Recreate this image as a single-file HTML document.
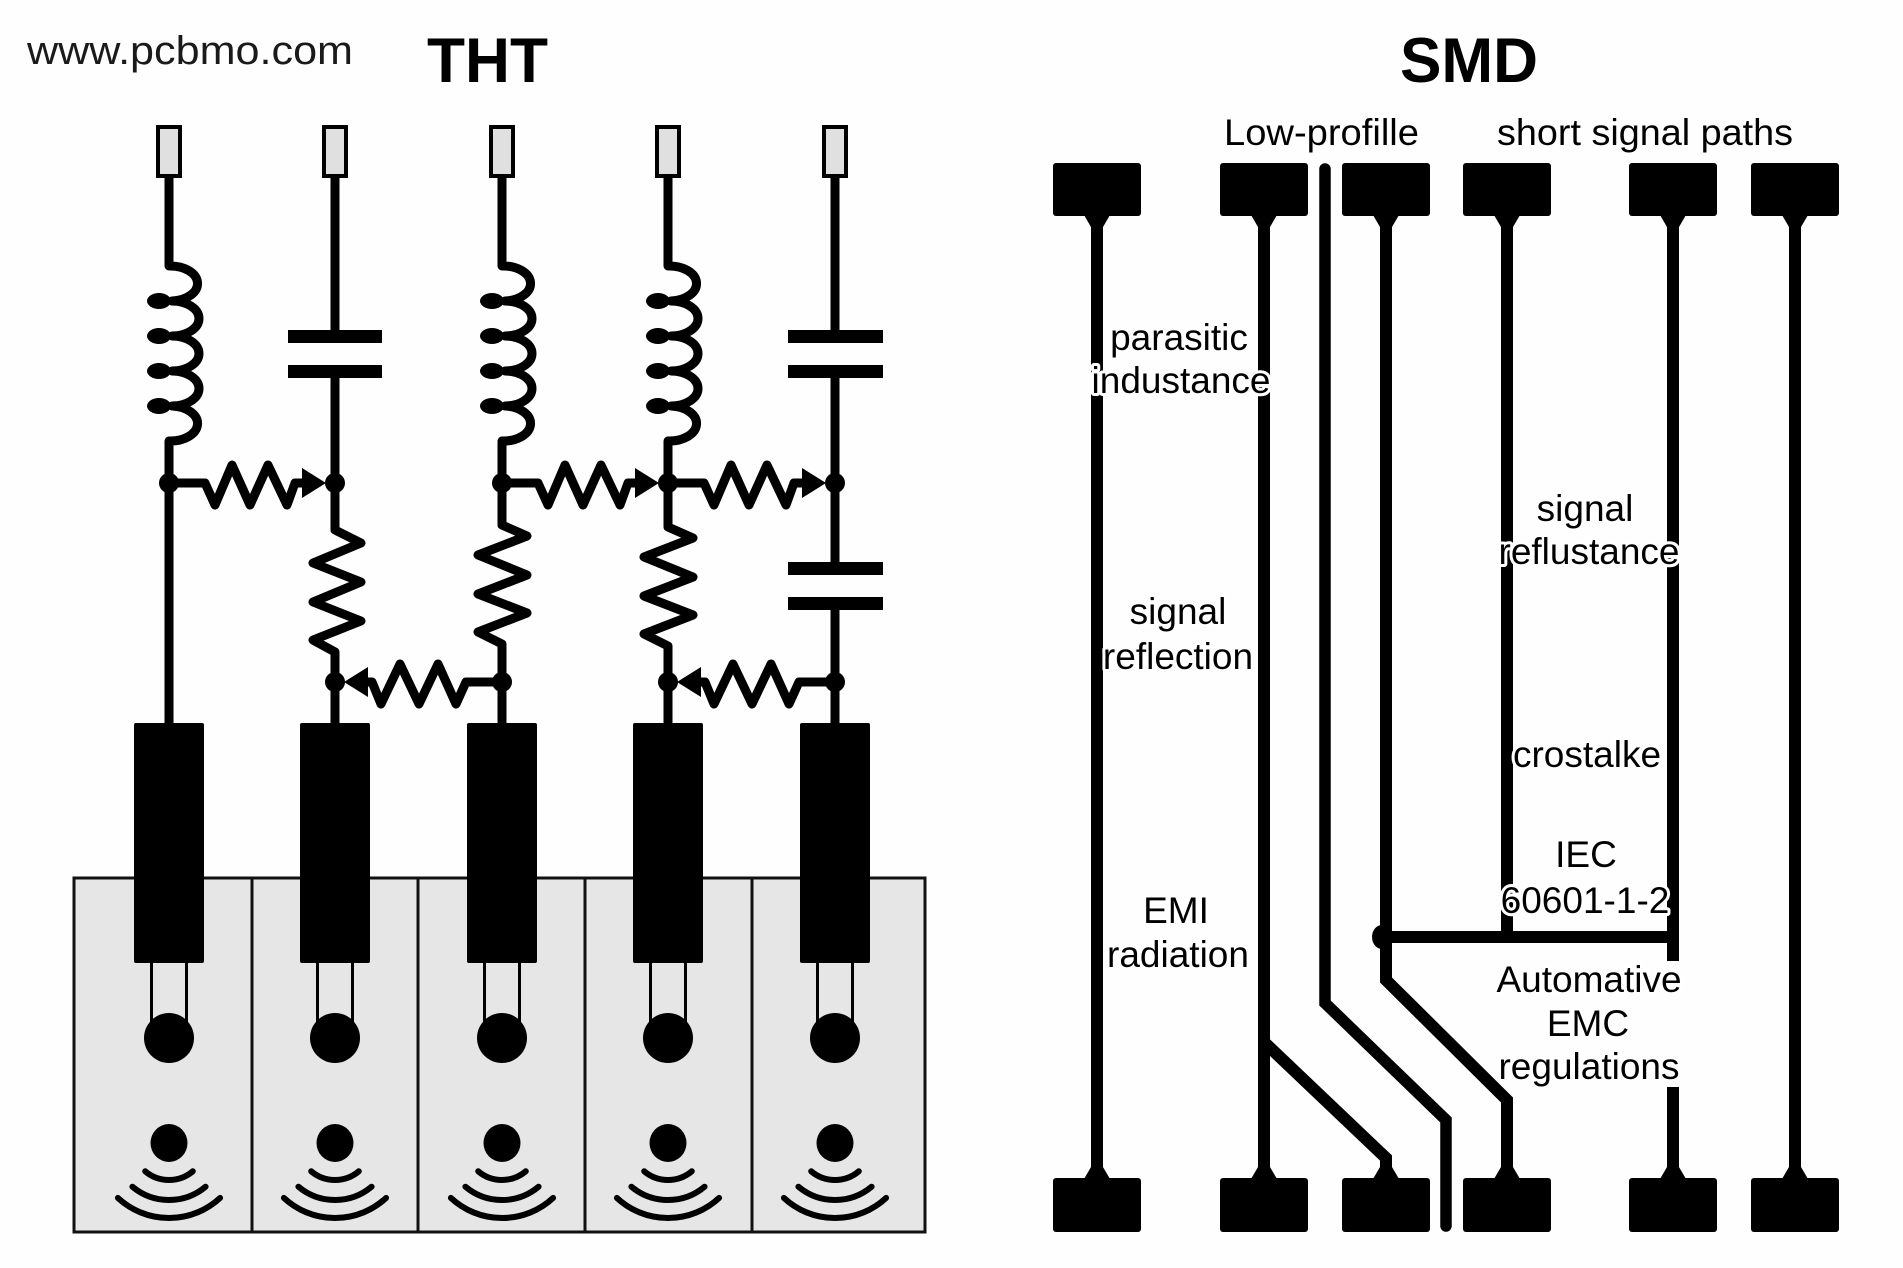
<!DOCTYPE html>
<html>
<head>
<meta charset="utf-8">
<style>
  html,body{margin:0;padding:0;background:#fefefe;}
  svg{display:block;}
  text{font-family:"Liberation Sans",Arial,sans-serif;}
</style>
</head>
<body>
<svg width="1903" height="1268" viewBox="0 0 1903 1268" xmlns="http://www.w3.org/2000/svg">
  <rect x="0" y="0" width="1903" height="1268" fill="#fefefe"/>

  <!-- header texts -->
  <text x="27" y="64" font-size="40" fill="#1a1a1a" textLength="326" lengthAdjust="spacingAndGlyphs">www.pcbmo.com</text>
  <text x="427" y="82" font-size="63" font-weight="bold" fill="#000" textLength="121" lengthAdjust="spacingAndGlyphs">THT</text>
  <text x="1400" y="82" font-size="63" font-weight="bold" fill="#000" textLength="138" lengthAdjust="spacingAndGlyphs">SMD</text>

  <!-- ================= THT side ================= -->
  <rect x="74" y="878" width="851" height="354" fill="#e6e6e6" stroke="#111" stroke-width="3"/>
  <g stroke="#111" stroke-width="3">
    <line x1="252" y1="878" x2="252" y2="1232"/>
    <line x1="418" y1="878" x2="418" y2="1232"/>
    <line x1="585" y1="878" x2="585" y2="1232"/>
    <line x1="752" y1="878" x2="752" y2="1232"/>
  </g>

  <!-- leads -->
  <g fill="#e0e0e0" stroke="#000" stroke-width="4">
    <rect x="158" y="127" width="22" height="49"/>
    <rect x="324" y="127" width="22" height="49"/>
    <rect x="491" y="127" width="22" height="49"/>
    <rect x="657" y="127" width="22" height="49"/>
    <rect x="824" y="127" width="22" height="49"/>
  </g>

  <!-- wires -->
  <g fill="none" stroke="#000" stroke-width="9" stroke-linejoin="round">
    <path d="M169,178 V266 A27 17.5 0 0 1 172,301 A27 17.5 0 0 1 172,336 A27 17.5 0 0 1 172,371 A27 17.5 0 0 1 172,406 A27 17.5 0 0 1 169,441 V724"/>
    <path d="M335,178 V330"/>
    <path d="M335,378 V530 L361,543 L313,563 L361,582 L313,602 L361,621 L313,640 L335,652 V724"/>
    <path d="M502,178 V266 A27 17.5 0 0 1 505,301 A27 17.5 0 0 1 505,336 A27 17.5 0 0 1 505,371 A27 17.5 0 0 1 505,406 A27 17.5 0 0 1 502,441 V525 L527,536 L478,555 L527,575 L478,594 L527,613 L478,632 L502,644 V724"/>
    <path d="M668,178 V266 A27 17.5 0 0 1 671,301 A27 17.5 0 0 1 671,336 A27 17.5 0 0 1 671,371 A27 17.5 0 0 1 671,406 A27 17.5 0 0 1 668,441 V527 L693,538 L644,557 L693,577 L644,596 L693,615 L644,634 L668,646 V724"/>
    <path d="M835,178 V330"/>
    <path d="M835,378 V562"/>
    <path d="M835,610 V724"/>

    <path d="M169,483 H205 L215,505 L232,465 L250,505 L268,465 L287,505 L295,483 H312"/>
    <path d="M502,483 H538 L548,505 L565,465 L583,505 L601,465 L620,505 L628,483 H645"/>
    <path d="M668,483 H704 L714,505 L731,465 L749,505 L767,465 L786,505 L794,483 H812"/>
    <path d="M502,682 H466 L456,704 L438,664 L419,704 L400,664 L381,704 L372,682 H358"/>
    <path d="M835,682 H799 L789,704 L771,664 L752,704 L733,664 L714,704 L705,682 H691"/>
  </g>

  <!-- inductor left loops -->
  <g fill="#000">
    <ellipse cx="159" cy="301" rx="12" ry="8"/>
    <ellipse cx="159" cy="336" rx="12" ry="8"/>
    <ellipse cx="159" cy="371" rx="12" ry="8"/>
    <ellipse cx="159" cy="406" rx="12" ry="8"/>
    <ellipse cx="492" cy="301" rx="12" ry="8"/>
    <ellipse cx="492" cy="336" rx="12" ry="8"/>
    <ellipse cx="492" cy="371" rx="12" ry="8"/>
    <ellipse cx="492" cy="406" rx="12" ry="8"/>
    <ellipse cx="658" cy="301" rx="12" ry="8"/>
    <ellipse cx="658" cy="336" rx="12" ry="8"/>
    <ellipse cx="658" cy="371" rx="12" ry="8"/>
    <ellipse cx="658" cy="406" rx="12" ry="8"/>
  </g>

  <!-- capacitor plates -->
  <g fill="#000">
    <rect x="288" y="330" width="94" height="13"/>
    <rect x="288" y="365" width="94" height="13"/>
    <rect x="788" y="330" width="95" height="13"/>
    <rect x="788" y="365" width="95" height="13"/>
    <rect x="788" y="562" width="95" height="13"/>
    <rect x="788" y="597" width="95" height="13"/>
  </g>

  <!-- arrowheads -->
  <g fill="#000">
    <polygon points="302,468 326,483 302,498"/>
    <polygon points="635,468 659,483 635,498"/>
    <polygon points="802,468 826,483 802,498"/>
    <polygon points="368,667 344,682 368,697"/>
    <polygon points="701,667 677,682 701,697"/>
  </g>

  <!-- junction dots -->
  <g fill="#000">
    <ellipse cx="169" cy="483" rx="10" ry="10"/>
    <ellipse cx="335" cy="483" rx="10" ry="10"/>
    <ellipse cx="502" cy="483" rx="10" ry="10"/>
    <ellipse cx="668" cy="483" rx="10" ry="10"/>
    <ellipse cx="835" cy="483" rx="10" ry="10"/>
    <ellipse cx="335" cy="682" rx="10" ry="10"/>
    <ellipse cx="502" cy="682" rx="10" ry="10"/>
    <ellipse cx="668" cy="682" rx="10" ry="10"/>
    <ellipse cx="835" cy="682" rx="10" ry="10"/>
  </g>

  <!-- bodies -->
  <g fill="#000">
    <rect x="134" y="723" width="70" height="240" rx="2"/>
    <rect x="300" y="723" width="70" height="240" rx="2"/>
    <rect x="467" y="723" width="70" height="240" rx="2"/>
    <rect x="633" y="723" width="70" height="240" rx="2"/>
    <rect x="800" y="723" width="70" height="240" rx="2"/>
  </g>

  <g stroke="#000" stroke-width="3">
    <line x1="151.5" y1="962" x2="151.5" y2="1022"/><line x1="186.5" y1="962" x2="186.5" y2="1022"/>
    <line x1="317.5" y1="962" x2="317.5" y2="1022"/><line x1="352.5" y1="962" x2="352.5" y2="1022"/>
    <line x1="484.5" y1="962" x2="484.5" y2="1022"/><line x1="519.5" y1="962" x2="519.5" y2="1022"/>
    <line x1="650.5" y1="962" x2="650.5" y2="1022"/><line x1="685.5" y1="962" x2="685.5" y2="1022"/>
    <line x1="817.5" y1="962" x2="817.5" y2="1022"/><line x1="852.5" y1="962" x2="852.5" y2="1022"/>
  </g>
  <g fill="#000">
    <circle cx="169" cy="1038" r="25"/>
    <circle cx="335" cy="1038" r="25"/>
    <circle cx="502" cy="1038" r="25"/>
    <circle cx="668" cy="1038" r="25"/>
    <circle cx="835" cy="1038" r="25"/>
    <ellipse cx="169" cy="1143" rx="18.5" ry="19"/>
    <ellipse cx="335" cy="1143" rx="18.5" ry="19"/>
    <ellipse cx="502" cy="1143" rx="18.5" ry="19"/>
    <ellipse cx="668" cy="1143" rx="18.5" ry="19"/>
    <ellipse cx="835" cy="1143" rx="18.5" ry="19"/>
  </g>
  <g fill="none" stroke="#000" stroke-width="6" stroke-linecap="round">
    <path d="M192.8,1171.3 A37 37 0 0 1 145.2,1171.3 M205.6,1186.7 A57 57 0 0 1 132.4,1186.7 M220.1,1197.9 A75 75 0 0 1 117.9,1197.9"/>
    <path d="M358.8,1171.3 A37 37 0 0 1 311.2,1171.3 M371.6,1186.7 A57 57 0 0 1 298.4,1186.7 M386.1,1197.9 A75 75 0 0 1 283.9,1197.9"/>
    <path d="M525.8,1171.3 A37 37 0 0 1 478.2,1171.3 M538.6,1186.7 A57 57 0 0 1 465.4,1186.7 M553.1,1197.9 A75 75 0 0 1 450.9,1197.9"/>
    <path d="M691.8,1171.3 A37 37 0 0 1 644.2,1171.3 M704.6,1186.7 A57 57 0 0 1 631.4,1186.7 M719.1,1197.9 A75 75 0 0 1 616.9,1197.9"/>
    <path d="M858.8,1171.3 A37 37 0 0 1 811.2,1171.3 M871.6,1186.7 A57 57 0 0 1 798.4,1186.7 M886.1,1197.9 A75 75 0 0 1 783.9,1197.9"/>
  </g>

  <!-- ================= SMD side ================= -->
  <text x="1224" y="145" font-size="37" fill="#000" textLength="195" lengthAdjust="spacingAndGlyphs">Low-profille</text>
  <text x="1497" y="145" font-size="37" fill="#000" textLength="296" lengthAdjust="spacingAndGlyphs">short signal paths</text>

  <g fill="none" stroke="#000" stroke-width="12" stroke-linejoin="miter">
    <path d="M1097,216 V1178"/>
    <path d="M1264,216 V1178"/>
    <path d="M1264,1042 L1386,1158 V1178"/>
    <path d="M1325,169 V1003 L1446,1120 V1226" stroke-linecap="round" stroke-width="11.5"/>
    <path d="M1386,216 V980 L1507,1100 V1178"/>
    <path d="M1507,216 V937"/>
    <path d="M1380,937 H1679"/>
    <path d="M1673,216 V961"/>
    <path d="M1673,1087 V1178"/>
    <path d="M1795,216 V1178"/>
  </g>
  <ellipse cx="1382" cy="937" rx="10" ry="12" fill="#000"/>

  <g fill="#000">
    <rect x="1053" y="163" width="88" height="53" rx="3"/>
    <rect x="1220" y="163" width="88" height="53" rx="3"/>
    <rect x="1342" y="163" width="88" height="53" rx="3"/>
    <rect x="1463" y="163" width="88" height="53" rx="3"/>
    <rect x="1629" y="163" width="88" height="53" rx="3"/>
    <rect x="1751" y="163" width="88" height="53" rx="3"/>

    <rect x="1053" y="1178" width="88" height="54" rx="3"/>
    <rect x="1220" y="1178" width="88" height="54" rx="3"/>
    <rect x="1342" y="1178" width="88" height="54" rx="3"/>
    <rect x="1463" y="1178" width="88" height="54" rx="3"/>
    <rect x="1629" y="1178" width="88" height="54" rx="3"/>
    <rect x="1751" y="1178" width="88" height="54" rx="3"/>

    <polygon points="1084,215 1110,215 1103,227 1091,227"/>
    <polygon points="1251,215 1277,215 1270,227 1258,227"/>
    <polygon points="1373,215 1399,215 1392,227 1380,227"/>
    <polygon points="1494,215 1520,215 1513,227 1501,227"/>
    <polygon points="1660,215 1686,215 1679,227 1667,227"/>
    <polygon points="1782,215 1808,215 1801,227 1789,227"/>

    <polygon points="1084,1179 1110,1179 1103,1167 1091,1167"/>
    <polygon points="1251,1179 1277,1179 1270,1167 1258,1167"/>
    <polygon points="1373,1179 1399,1179 1392,1167 1380,1167"/>
    <polygon points="1494,1179 1520,1179 1513,1167 1501,1167"/>
    <polygon points="1660,1179 1686,1179 1679,1167 1667,1167"/>
    <polygon points="1782,1179 1808,1179 1801,1167 1789,1167"/>
  </g>

  <g font-size="37" fill="#000" text-anchor="middle" stroke="#fff" stroke-width="6" paint-order="stroke" stroke-linejoin="round">
    <text x="1179" y="350">parasitic</text>
    <text x="1181" y="393">industance</text>
    <text x="1178" y="624">signal</text>
    <text x="1178" y="669">reflection</text>
    <text x="1176" y="923">EMI</text>
    <text x="1178" y="967">radiation</text>

    <text x="1585" y="521">signal</text>
    <text x="1589" y="564">reflustance</text>
    <text x="1587" y="767">crostalke</text>
    <text x="1586" y="867">IEC</text>
    <text x="1585" y="913">60601-1-2</text>
    <text x="1589" y="992">Automative</text>
    <text x="1588" y="1036">EMC</text>
    <text x="1589" y="1079">regulations</text>
  </g>
</svg>
</body>
</html>
